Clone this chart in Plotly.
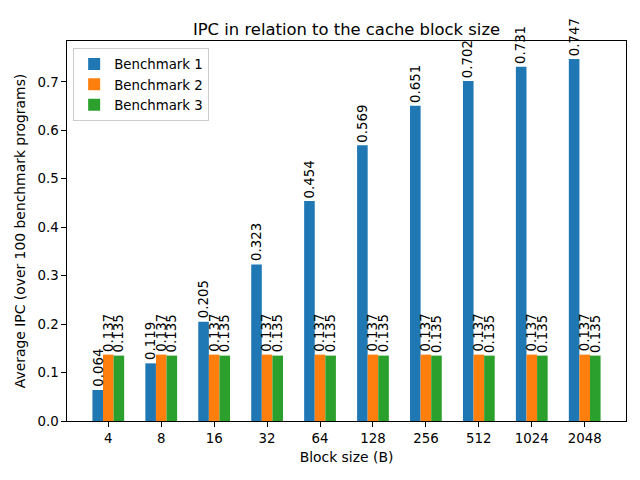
import plotly.graph_objects as go

block_sizes = ["4", "8", "16", "32", "64", "128", "256", "512", "1024", "2048"]
bench1 = [0.064, 0.119, 0.205, 0.323, 0.454, 0.569, 0.651, 0.702, 0.731, 0.747]
bench2 = [0.137] * 10
bench3 = [0.135] * 10
series_names = ["Benchmark 1", "Benchmark 2", "Benchmark 3"]
colors = ["#1f77b4", "#ff7f0e", "#2ca02c"]

width = 0.2
offsets = [-width, 0.0, width]
idx = list(range(len(block_sizes)))

FS = 13.33
TFS = 13.9

fig = go.Figure()
annotations = []
for name, vals, col, off in zip(series_names, [bench1, bench2, bench3], colors, offsets):
    xs = [i + off for i in idx]
    fig.add_trace(go.Bar(x=xs, y=vals, width=width, name=name, marker=dict(color=col, line=dict(width=0))))
    for x, v in zip(xs, vals):
        annotations.append(dict(x=x, y=v, xref="x", yref="y", text=f"{v:.3f}", textangle=-90,
                                showarrow=False, xanchor="center", yanchor="bottom", yshift=1,
                                font=dict(family="DejaVu Sans", size=FS, color="black")))

fig.update_layout(
    width=640, height=480,
    margin=dict(l=67, r=14, t=41, b=59),
    paper_bgcolor="white", plot_bgcolor="white",
    barmode="overlay",
    font=dict(family="DejaVu Sans", size=FS, color="black"),
    title=dict(text="IPC in relation to the cache block size", x=0.5, xref="paper", xanchor="center",
               y=1, yref="paper", yanchor="bottom", pad=dict(b=6), font=dict(size=16.4, color="black")),
    annotations=annotations,
    legend=dict(x=0.011, y=0.982, xanchor="left", yanchor="top", bordercolor="#cccccc", borderwidth=1,
                bgcolor="rgba(255,255,255,0.8)", font=dict(size=FS), itemsizing="constant",
                tracegroupgap=2),
    showlegend=True,
)
fig.update_xaxes(range=[-0.78, len(block_sizes) - 1 + 0.78], tickvals=idx, ticktext=block_sizes,
                 tickfont=dict(size=FS, color="black"),
                 showline=True, linecolor="black", linewidth=1, mirror=True, ticks="outside",
                 ticklen=4.7, tickcolor="black", showgrid=False, zeroline=False,
                 title=dict(text="Block size (B)", standoff=7, font=dict(size=TFS, color="black")))
fig.update_yaxes(range=[0, 0.7844], dtick=0.1, tickformat=".1f",
                 tickfont=dict(size=FS, color="black"),
                 showline=True, linecolor="black", linewidth=1, mirror=True, ticks="outside",
                 ticklen=4.7, tickcolor="black", showgrid=False, zeroline=False,
                 title=dict(text="Average IPC (over 100 benchmark programs)", standoff=8,
                            font=dict(size=TFS, color="black")))

fig.write_html("out.html")
